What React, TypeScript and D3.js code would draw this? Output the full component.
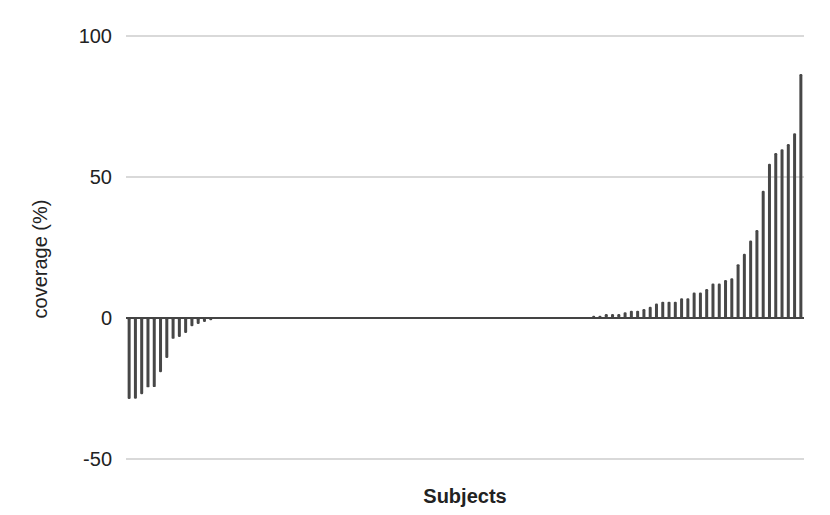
import React from "react";
import * as d3 from "d3";

const negativeValues = [-28.7, -28.6, -27.0, -24.6, -24.5, -19.2, -14.2, -7.4, -6.7, -5.3, -2.9, -2.1, -1.4, -0.8];
const zeroValues = Array.from({ length: 60 }, () => 0);
const positiveValues = [
  0.8, 0.8, 1.4, 1.4, 1.4, 2.0, 2.6, 2.6, 3.2, 4.0,
  5.1, 5.8, 5.8, 5.8, 7.0, 7.0, 9.0, 9.0, 10.3, 12.2,
  12.2, 13.5, 14.1, 19.1, 22.8, 27.5, 31.2, 45.1, 54.7, 58.5,
  59.8, 61.7, 65.5, 86.5,
];
const values = [...negativeValues, ...zeroValues, ...positiveValues];
const subjects = values.map((_, i) => `S${i + 1}`);
const yTicks = [-50, 0, 50, 100];

const W = 830;
const H = 515;
const left = 126;
const right = 804;
const top = 36;
const bottom = 459;

export default function App() {
  const x = d3.scaleBand<string>().domain(subjects).range([left, right]).paddingInner(0.5).paddingOuter(0.25);
  const y = d3.scaleLinear().domain([-50, 100]).range([bottom, top]);
  const bw = 3;
  const font = "'Liberation Sans', Arial, sans-serif";
  return (
    <svg width={W} height={H} style={{ position: "absolute", left: 0, top: 0, background: "#fff" }}>
      {yTicks.map((t) => (
        <g key={t}>
          {t !== 0 && (
            <line x1={left} x2={right} y1={y(t)} y2={y(t)} stroke="#cccccc" strokeWidth={1.6} />
          )}
          <text x={112} y={y(t)} dy="0.35em" textAnchor="end" fontSize={20} fontFamily={font} fill="#222">
            {t}
          </text>
        </g>
      ))}
      {values.map((v, i) => {
        const cx = (x(subjects[i]) as number) + x.bandwidth() / 2;
        const y0 = y(0);
        const y1 = y(v);
        const h = Math.abs(y1 - y0);
        if (h < 0.01) return null;
        return (
          <rect key={i} x={cx - bw / 2} y={Math.min(y0, y1)} width={bw} height={h} rx={1.2} fill="#474747" />
        );
      })}
      <line x1={left} x2={right} y1={y(0)} y2={y(0)} stroke="#444444" strokeWidth={2} />
      <text
        transform={`translate(47,259) rotate(-90)`}
        textAnchor="middle"
        fontSize={20}
        fontFamily={font}
        fill="#222"
      >
        coverage (%)
      </text>
      <text x={465} y={503} textAnchor="middle" fontSize={20} fontWeight="bold" fontFamily={font} fill="#222">
        Subjects
      </text>
    </svg>
  );
}
